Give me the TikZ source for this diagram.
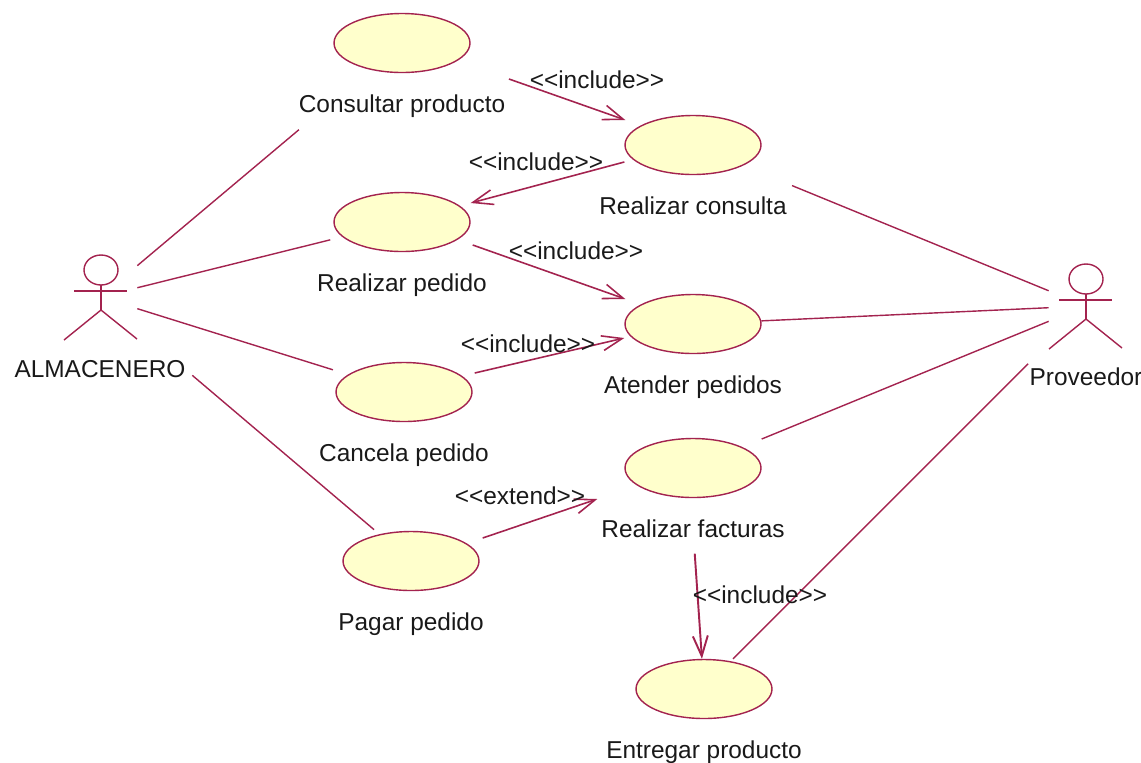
\documentclass[tikz,border=0pt]{standalone}
\usepackage{fontspec}
\setmainfont[Ligatures=NoCommon]{Liberation Sans}
\usetikzlibrary{positioning, arrows.meta, shapes.geometric}
\definecolor{rosered}{HTML}{A3234F}
\definecolor{rosefill}{HTML}{FFFFCC}
\tikzset{
	usecase/.style={ellipse, draw=rosered, fill=rosefill, line width=0.8pt, minimum width=2.72cm, minimum height=1.18cm, inner sep=0pt},
	caption/.style={inner sep=0pt, font=\fontsize{13.9}{16}\selectfont, text=black!90},
	stereo/.style={inner sep=0pt, font=\fontsize{13.9}{16}\selectfont, text=black!90},
	actorbox/.style={inner sep=0pt, minimum width=1.48cm, minimum height=2.2cm},
	assoc/.style={draw=rosered, line width=0.8pt},
	dep/.style={draw=rosered, line width=0.9pt, -{Straight Barb[length=11.5pt, width=8.5pt]}},
	actor/.pic={
		\draw[rosered, line width=0.8pt] (0,-21) ellipse [x radius=17, y radius=15];
		\draw[rosered, line width=0.8pt] (-27,0) -- (26,0);
		\draw[rosered, line width=0.8pt] (0,-6) -- (0,19);
		\draw[rosered, line width=0.8pt] (-37,49) -- (0,19) -- (36,48);
	}
}
\begin{document}
\begin{tikzpicture}[x=0.02cm, y=-0.02cm, node distance=0.42cm]
	\useasboundingbox (0,0) rectangle (1141,762);

	% use cases
	\node[usecase] (consultar) at (402,43) {};
	\node[usecase] (consulta) at (693,145) {};
	\node[usecase] (pedido) at (402,222) {};
	\node[usecase] (atender) at (693,324) {};
	\node[usecase] (cancela) at (404,392) {};
	\node[usecase] (facturas) at (693,468) {};
	\node[usecase] (pagar) at (411,561) {};
	\node[usecase] (entregar) at (704,689) {};

	\node[caption] (consultarLbl) [below=of consultar] {Consultar producto};
	\node[caption] (consultaLbl) [below=of consulta] {Realizar consulta};
	\node[caption] (pedidoLbl) [below=of pedido] {Realizar pedido};
	\node[caption] (atenderLbl) [below=of atender] {Atender pedidos};
	\node[caption] (cancelaLbl) [below=of cancela] {Cancela pedido};
	\node[caption] (facturasLbl) [below=of facturas] {Realizar facturas};
	\node[caption] (pagarLbl) [below=of pagar] {Pagar pedido};
	\node[caption] (entregarLbl) [below=of entregar] {Entregar producto};

	% actors
	\pic at (101,291) {actor};
	\pic at (1086,300) {actor};
	\node[actorbox] (almacenero) at (100,297) {};
	\node[actorbox] (proveedor) at (1086,306) {};
	\node[caption] (almaceneroLbl) at (100,369) {ALMACENERO};
	\node[caption] (proveedorLbl) at (1086,377) {Proveedor};

	% associations
	\draw[assoc, shorten >=53pt] (almacenero) -- (consultar);
	\draw[assoc, shorten >=7pt] (almacenero) -- (pedido);
	\draw[assoc, shorten >=9pt] (almacenero) -- (cancela);
	\draw[assoc, shorten <=41pt, shorten >=4pt] (almacenero) -- (pagar);
	\draw[assoc, shorten <=30pt] (consulta) -- (proveedor);
	\draw[assoc] (atender) -- (proveedor);
	\draw[assoc] ([yshift=0.58cm]facturas.east) -- (proveedor);
	\draw[assoc, shorten >=16.5pt] ([xshift=0.58cm]entregar.north) -- (proveedor);

	% dependencies
	\draw[dep] ([xshift=2.14cm,yshift=-0.72cm]consultar.center) -- ([xshift=0.02cm,yshift=0.5cm]consulta.west);
	\draw[dep] ([yshift=-0.34cm]consulta.west) -- ([yshift=0.38cm]pedido.east);
	\draw[dep] ([xshift=0.04cm,yshift=-0.46cm]pedido.east) -- ([xshift=0.02cm,yshift=0.5cm]atender.west);
	\draw[dep] ([xshift=0.04cm,yshift=0.38cm]cancela.east) -- ([yshift=-0.28cm]atender.west);
	\draw[dep] ([xshift=0.06cm,yshift=0.46cm]pagar.east) -- ([xshift=-0.54cm,yshift=-0.62cm]facturas.west);
	\draw[dep, line width=1.1pt, shorten <=9pt] (facturasLbl) -- (entregar);

	% stereotypes
	\node[stereo] (inclA) at (597,80) {{<}{<}include{>}{>}};
	\node[stereo] (inclB) at (536,162) {{<}{<}include{>}{>}};
	\node[stereo] (inclC) at (576,251) {{<}{<}include{>}{>}};
	\node[stereo] (inclD) at (528,344) {{<}{<}include{>}{>}};
	\node[stereo] (extA) at (520,496) {{<}{<}extend{>}{>}};
	\node[stereo] (inclE) at (760,595) {{<}{<}include{>}{>}};
\end{tikzpicture}
\end{document}
